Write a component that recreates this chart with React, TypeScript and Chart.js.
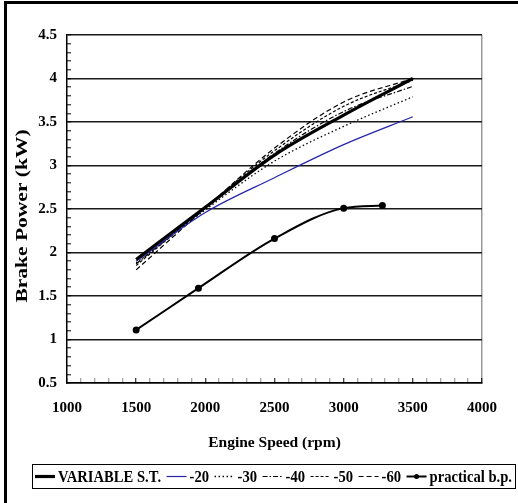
import React, { useEffect, useRef } from 'react';
import { Chart, registerables } from 'chart.js';

Chart.register(...registerables);

const FONT = '"Liberation Serif", "Times New Roman", serif';

// Engine speed (rpm) for the simulated curves
const rpm = [1500, 2000, 2500, 3000, 3500];
// Brake power (kW)
const variableST = [1.92, 2.52, 3.12, 3.58, 4.0];
const adv20 = [1.9, 2.46, 2.86, 3.24, 3.56];
const adv30 = [1.88, 2.49, 3.05, 3.45, 3.79];
const adv40 = [1.87, 2.51, 3.14, 3.62, 3.91];
const adv50 = [1.85, 2.52, 3.17, 3.68, 3.98];
const adv60 = [1.8, 2.51, 3.2, 3.73, 4.0];

// Practical (measured) brake power
const practicalRpm = [1500, 1950, 2500, 3000, 3280];
const practical = [1.11, 1.59, 2.16, 2.51, 2.54];

const seriesLabels = ['VARIABLE S.T.', '-20', '-30', '-40', '-50', '-60', 'practical b.p.'];

const xLabels = [1000, 1500, 2000, 2500, 3000, 3500, 4000];
const yLabels = [0.5, 1, 1.5, 2, 2.5, 3, 3.5, 4, 4.5];

const xTitle = 'Engine Speed (rpm)';
const yTitle = 'Brake Power (kW)';

const pts = (xs: number[], ys: number[]) => xs.map((x, i) => ({ x, y: ys[i] }));

const frameLegendPlugin = {
  id: 'frameLegend',
  afterDraw(chart: any) {
    const ctx = chart.ctx as CanvasRenderingContext2D;
    const area = chart.chartArea;
    ctx.save();
    // outer frame
    ctx.strokeStyle = '#000';
    ctx.lineWidth = 3;
    ctx.beginPath();
    ctx.moveTo(5.5, 503);
    ctx.lineTo(5.5, 2.5);
    ctx.lineTo(518, 2.5);
    ctx.stroke();

    // y-axis title (slightly condensed across its thickness, as in the original)
    ctx.save();
    ctx.translate(23, (area.top + area.bottom) / 2 + 7);
    ctx.rotate(-Math.PI / 2);
    ctx.scale(1, 0.8);
    ctx.font = `bold 21.5px ${FONT}`;
    ctx.fillStyle = '#000';
    ctx.textAlign = 'center';
    ctx.textBaseline = 'middle';
    ctx.fillText(yTitle, 0, 0);
    ctx.restore();

    // legend box
    const bx = 32, by = 464, bw = 483, bh = 24;
    ctx.lineWidth = 1;
    ctx.strokeStyle = '#000';
    ctx.strokeRect(bx + 0.5, by + 0.5, bw, bh);
    const SX = 0.86;
    ctx.font = `bold 17px ${FONT}`;
    ctx.textBaseline = 'middle';
    const sw = 20;
    const dss = chart.data.datasets;
    let textTotal = 0;
    dss.forEach((d: any) => (textTotal += ctx.measureText(d.label).width * SX));
    const inner = bw - 6;
    const gap = (inner - textTotal - dss.length * (sw + 3)) / (dss.length - 1);
    let x = bx + 3;
    const cy = by + bh / 2 + 0.5;
    dss.forEach((d: any) => {
      ctx.save();
      ctx.strokeStyle = d.borderColor;
      ctx.lineWidth = d.borderWidth;
      ctx.setLineDash(d.borderDash || []);
      ctx.beginPath();
      ctx.moveTo(x, cy);
      ctx.lineTo(x + sw, cy);
      ctx.stroke();
      if (d.pointRadius > 0) {
        ctx.fillStyle = d.pointBackgroundColor;
        ctx.beginPath();
        ctx.arc(x + sw / 2, cy, d.pointRadius, 0, Math.PI * 2);
        ctx.fill();
      }
      ctx.restore();
      x += sw + 3;
      ctx.save();
      ctx.translate(x, cy + 1);
      ctx.scale(SX, 1);
      ctx.fillStyle = '#000';
      ctx.fillText(d.label, 0, 0);
      ctx.restore();
      x += ctx.measureText(d.label).width * SX + gap;
    });
    ctx.restore();
  },
};

const isMult = (v: number, m: number) => Math.abs(v / m - Math.round(v / m)) < 1e-6;

export default function App() {
  const ref = useRef<HTMLCanvasElement | null>(null);
  useEffect(() => {
    if (!ref.current) return;
    const common = { pointRadius: 0, fill: false, cubicInterpolationMode: 'monotone' as const };
    const chart = new Chart(ref.current, {
      type: 'line',
      data: {
        datasets: [
          { ...common, label: seriesLabels[0], data: pts(rpm, variableST), borderColor: '#000', borderWidth: 3.2 },
          { ...common, label: seriesLabels[1], data: pts(rpm, adv20), borderColor: '#2424a8', borderWidth: 1.2 },
          { ...common, label: seriesLabels[2], data: pts(rpm, adv30), borderColor: '#000', borderWidth: 1.3, borderDash: [1.5, 2.5] },
          { ...common, label: seriesLabels[3], data: pts(rpm, adv40), borderColor: '#000', borderWidth: 1.2, borderDash: [5, 2, 1.5, 2] },
          { ...common, label: seriesLabels[4], data: pts(rpm, adv50), borderColor: '#000', borderWidth: 1.2, borderDash: [3, 2] },
          { ...common, label: seriesLabels[5], data: pts(rpm, adv60), borderColor: '#000', borderWidth: 1.2, borderDash: [5, 3] },
          {
            ...common,
            label: seriesLabels[6],
            data: pts(practicalRpm, practical),
            borderColor: '#000',
            borderWidth: 2,
            pointRadius: 2.5,
            pointBackgroundColor: '#000',
            pointBorderColor: '#000',
          },
        ],
      },
      options: {
        animation: false,
        responsive: false,
        layout: { padding: { left: 0, top: 35, right: 19, bottom: 50 } },
        plugins: { legend: { display: false }, tooltip: { enabled: false } },
        scales: {
          x: {
            type: 'linear',
            min: xLabels[0],
            max: xLabels[xLabels.length - 1],
            afterFit: (s: any) => {
              s.height = 70;
            },
            ticks: {
              stepSize: 100,
              autoSkip: false,
              maxRotation: 0,
              padding: 21,
              color: '#000',
              font: { family: FONT, size: 15, weight: 'bold' },
              callback: (v: any) => (xLabels.includes(Number(v)) ? String(v) : ''),
            },
            grid: {
              drawOnChartArea: true,
              color: (c: any) => (c.tick && c.tick.value === xLabels[xLabels.length - 1] ? '#9a9a9a' : 'rgba(0,0,0,0)'),
              lineWidth: 1.5,
              tickLength: -5,
              tickWidth: 1,
              tickColor: (c: any) => (c.tick && isMult(c.tick.value, 500) ? '#000' : '#888'),
            },
            border: { color: '#000', width: 1.5 },
            title: {
              display: true,
              text: xTitle,
              color: '#000',
              font: { family: FONT, size: 15.5, weight: 'bold' },
              padding: { top: 0, bottom: 1 },
            },
          },
          y: {
            min: yLabels[0],
            max: yLabels[yLabels.length - 1],
            afterFit: (s: any) => {
              s.width = 67;
            },
            ticks: {
              stepSize: 0.1,
              autoSkip: false,
              padding: 14,
              color: '#000',
              font: { family: FONT, size: 15, weight: 'bold' },
              callback: (v: any) => {
                const n = Number(v);
                return isMult(n, 0.5) ? String(Number(n.toFixed(1))) : '';
              },
            },
            grid: {
              color: (c: any) => (c.tick && isMult(c.tick.value, 0.5) ? '#1a1a1a' : 'rgba(0,0,0,0)'),
              lineWidth: 1.6,
              tickLength: -4,
              tickWidth: 1,
              tickColor: '#000',
            },
            border: { color: '#000', width: 1.5 },
            title: { display: false },
          },
        },
      },
      plugins: [frameLegendPlugin],
    });
    return () => chart.destroy();
  }, []);
  return (
    <div style={{ position: 'absolute', left: 0, top: 0, width: 518, height: 503, background: '#fff' }}>
      <canvas ref={ref} width={518} height={503} />
    </div>
  );
}
